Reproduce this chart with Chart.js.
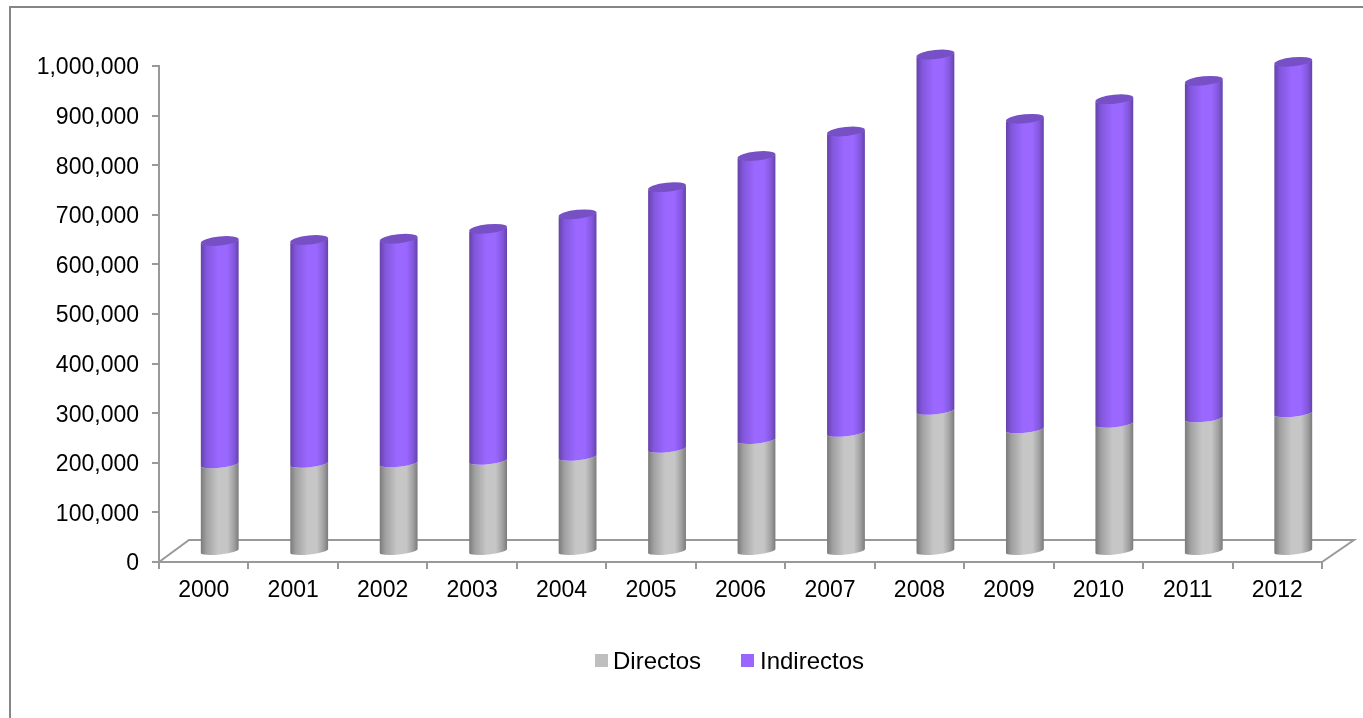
<!DOCTYPE html>
<html lang="es">
<head>
    <meta charset="UTF-8">
    <title>Directos e Indirectos</title>
    <script src="https://cdn.jsdelivr.net/npm/chart.js"></script>
    <style>
        body { margin: 0; background: #fff; }
        canvas { display: block; }
    </style>
</head>
<body>
    <canvas id="chart" width="1363" height="718"></canvas>
    <script>
        var years = ['2000', '2001', '2002', '2003', '2004', '2005', '2006', '2007', '2008', '2009', '2010', '2011', '2012'];
        var directos = [176800, 178000, 178800, 184000, 192100, 208300, 225800, 240300, 284700, 247400, 258700, 269500, 279800];
        var indirectos = [450200, 451000, 452800, 467600, 488700, 527200, 572600, 607500, 718300, 626000, 654200, 680500, 708500];

        var lineColor = '#999999';
        var depthX = 16, depthY = -10;   // where the bars stand on the floor
        var capRy = 4.5, seamRy = 3.5, capTilt = -6 * Math.PI / 180;

        // Horizontal shading of one cylinder
        function sideGradient(ctx, left, right, edge, mid, light) {
            var g = ctx.createLinearGradient(left, 0, right, 0);
            g.addColorStop(0, edge);
            g.addColorStop(0.15, mid);
            g.addColorStop(0.45, light);
            g.addColorStop(0.7, light);
            g.addColorStop(0.88, mid);
            g.addColorStop(1, edge);
            return g;
        }

        function drawSegment(ctx, bar, colors) {
            var x = bar.x + depthX, rx = bar.width / 2;
            var top = bar.y + depthY, base = bar.base + depthY;
            ctx.beginPath();
            ctx.ellipse(x, base, rx, seamRy, capTilt, 0, Math.PI);
            ctx.ellipse(x, top, rx, seamRy, capTilt, Math.PI, 0, true);
            ctx.closePath();
            ctx.fillStyle = sideGradient(ctx, x - rx, x + rx, colors[0], colors[1], colors[2]);
            ctx.fill();
        }

        var cylinders = {
            id: 'cylinders',
            beforeDraw: function (chart) {
                var ctx = chart.ctx, a = chart.chartArea;
                ctx.save();
                // outer frame
                ctx.strokeStyle = '#868686';
                ctx.lineWidth = 2;
                ctx.beginPath();
                ctx.moveTo(10, 718);
                ctx.lineTo(10, 7);
                ctx.lineTo(1363, 7);
                ctx.stroke();
                // floor
                ctx.strokeStyle = lineColor;
                ctx.lineWidth = 2;
                ctx.beginPath();
                ctx.moveTo(a.left, a.bottom);
                ctx.lineTo(a.left + 30, a.bottom - 22);
                ctx.lineTo(a.right + 32, a.bottom - 22);
                ctx.lineTo(a.right, a.bottom);
                ctx.stroke();
                ctx.restore();
            },
            beforeDatasetsDraw: function (chart) {
                var ctx = chart.ctx;
                ctx.save();
                chart.getDatasetMeta(0).data.forEach(function (bar) {
                    drawSegment(ctx, bar, ['#7a7a7a', '#a0a0a0', '#c6c6c6']);
                });
                chart.getDatasetMeta(1).data.forEach(function (bar) {
                    drawSegment(ctx, bar, ['#6442a8', '#8257dc', '#9a67ff']);
                    ctx.beginPath();
                    ctx.ellipse(bar.x + depthX, bar.y + depthY, bar.width / 2, capRy, capTilt, 0, Math.PI * 2);
                    ctx.fillStyle = '#7650c4';
                    ctx.fill();
                });
                ctx.restore();
                return false;
            },
            afterDraw: function (chart) {
                // legend
                var ctx = chart.ctx;
                var boxes = [595, 741], texts = [613, 760];
                ctx.save();
                ctx.font = '24px "Liberation Sans"';
                ctx.textBaseline = 'alphabetic';
                chart.data.datasets.forEach(function (ds, i) {
                    ctx.fillStyle = ds.backgroundColor;
                    ctx.fillRect(boxes[i], 654, 13, 13);
                    ctx.fillStyle = '#000';
                    ctx.fillText(ds.label, texts[i], 669);
                });
                ctx.restore();
            }
        };

        new Chart(document.getElementById('chart'), {
            type: 'bar',
            data: {
                labels: years,
                datasets: [
                    { label: 'Directos', data: directos, backgroundColor: '#bfbfbf' },
                    { label: 'Indirectos', data: indirectos, backgroundColor: '#9966ff' }
                ]
            },
            options: {
                responsive: false,
                animation: false,
                barPercentage: 0.425,
                categoryPercentage: 1,
                layout: { padding: { left: 0, top: 66, right: 41, bottom: 96 } },
                plugins: { legend: { display: false }, tooltip: { enabled: false } },
                scales: {
                    x: {
                        stacked: true,
                        afterFit: function (s) { s.height = 60; },
                        border: { color: lineColor, width: 2 },
                        grid: { drawOnChartArea: false, color: lineColor, lineWidth: 2, tickLength: 7 },
                        ticks: { color: '#000', font: { family: 'Liberation Sans', size: 23 }, padding: 8, maxRotation: 0, autoSkip: false }
                    },
                    y: {
                        stacked: true,
                        min: 0,
                        max: 1000000,
                        afterFit: function (s) { s.width = 159; },
                        border: { color: lineColor, width: 2 },
                        grid: { drawOnChartArea: false, color: lineColor, lineWidth: 2, tickLength: 7 },
                        ticks: {
                            stepSize: 100000,
                            color: '#000',
                            font: { family: 'Liberation Sans', size: 23 },
                            padding: 13,
                            labelOffset: 2,
                            callback: function (v) { return v.toLocaleString('en-US'); }
                        }
                    }
                }
            },
            plugins: [cylinders]
        });
    </script>
</body>
</html>
